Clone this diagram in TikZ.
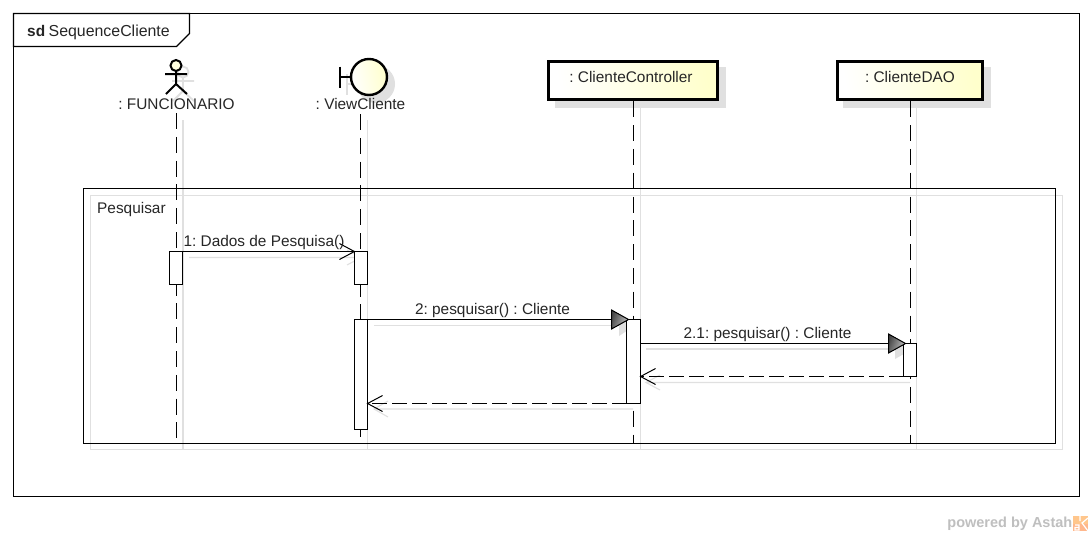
\documentclass[tikz,border=0pt]{standalone}
\usepackage{fontspec}
\setmainfont{Liberation Sans}
\frenchspacing
\usetikzlibrary{arrows.meta,calc,shadings}
\definecolor{shadowgray}{HTML}{E0E0E0}
\definecolor{noteyellow}{HTML}{FFFFCC}
\tikzset{
  x=1pt,y=-1pt,
  lbl/.style={font=\fontsize{15.4}{17}\selectfont,inner sep=0pt,text=black!85,anchor=base},
  lifeln/.style={line width=1pt,dash pattern=on 16pt off 7.8pt},
  shadowln/.style={draw=shadowgray,line width=1.2pt},
  objbox/.style={draw=black,line width=3pt,left color=white,right color=noteyellow,shading angle=100,inner sep=0pt,minimum height=38.5pt,anchor=north west},
  objshadow/.style={fill=shadowgray},
  activ/.style={draw=black,fill=white,line width=1pt,inner sep=0pt,outer sep=0pt,minimum width=13pt,anchor=north},
  msg/.style={line width=1pt},
  openhead/.style={-{Straight Barb[length=15pt,width=16pt,line width=1pt]},shorten >=-1pt},
  trihead/.style={-{Triangle[length=17pt,width=19pt,fill=gray,line width=0.8pt]},shorten >=-2.2pt},
  tritop/.style={left color=black!72,right color=black!22,shading angle=70,draw=black,line width=1pt,line join=miter},
  retmsg/.style={line width=1pt,dash pattern=on 14.5pt off 5.5pt,openhead},
  shmsg/.style={draw=shadowgray,line width=1.1pt},
}
\begin{document}
\begin{tikzpicture}
\useasboundingbox (0,0) rectangle (1092,536);
\fill[white] (0,0) rectangle (1092,536);
% frame
\draw[line width=1.2pt] (13.5,13.5) rectangle (1079.5,496.5);
\draw[line width=1.2pt,fill=white] (13.5,13.5) -- (189.5,13.5) -- (189.5,33.5) -- (176.5,46.5) -- (13.5,46.5) -- cycle;
\node[lbl,anchor=base west] (sdlabel) at (27,36) {\textbf{sd}\hspace{3.5pt}\fontsize{15.9}{17}\selectfont SequenceCliente};
% fragment shadow
\draw[shadowln] (90.5,195.5) rectangle (1062.5,449.5);
% lifeline shadows
\draw[shadowln] (183,120) -- (183,449);
\draw[shadowln] (367.5,120) -- (367.5,449);
\draw[shadowln] (640.5,107) -- (640.5,449);
\draw[shadowln] (916.5,107) -- (916.5,449);
% object shadows
\fill[objshadow] (555,67) rectangle (726,108);
\fill[objshadow] (843,67) rectangle (991,108);
% actor shadow
\begin{scope}[shadowgray,line width=1.8pt,shift={(7,7)}]
\draw (176,65) circle (5.5);
\draw (176,71) -- (176,84) (165,74) -- (187,74) (176,84) -- (166,94) (176,84) -- (187,94);
\end{scope}
% boundary shadow
\fill[shadowgray] (376,84) circle (19);
\draw[shadowgray,line width=2pt] (347,74) -- (347,95) (347,84) -- (358,84);
% actor
\draw[line width=2pt,fill=noteyellow!60] (176,65.5) circle (5.5);
\draw[line width=2pt] (176,71) -- (176,84) (165,74) -- (187,74) (176,84) -- (166,94) (176,84) -- (187,94);
\node[lbl] (funcionario) at (176.5,109.5) {: FUNCIONARIO};
% boundary
\draw[line width=2.2pt] (340,66.5) -- (340,87.5) (340,77) -- (351,77);
\shade[left color=white,right color=noteyellow,shading angle=100] (369,77) circle (18);
\draw[line width=2.4pt] (369,77) circle (18);
\node[lbl] (viewcliente) at (360.5,109.5) {: ViewCliente};
% lifeline ends
\coordinate (e1) at (176.5,442);
\coordinate (e2) at (360.5,436.5);
\coordinate (e3) at (633.5,444);
\coordinate (e4) at (910.5,444);
\coordinate (s1) at (176.5,113);
\coordinate (s2) at (360.5,114);
% lifelines
\draw[lifeln] (s1) -- (e1);
\draw[lifeln] (s2) -- (e2);
% objects
\node[objbox,minimum width=168.5pt] (controller) at (547.2,59.8) {};
\node[objbox,minimum width=145.5pt] (dao) at (835.5,59.8) {};
\node[lbl] (controllerlabel) at (631,82.3) {: ClienteController};
\node[lbl] (daolabel) at (910,82.3) {: ClienteDAO};
\draw[lifeln] (controller.south -| e3) -- (e3);
\draw[lifeln] (dao.south -| e4) -- (e4);
% fragment
\draw[line width=1.2pt] (83.5,188.5) rectangle (1055.5,443.5);
\node[lbl,anchor=base west] (pesquisar) at (97,213.5) {Pesquisar};
% message shadows
\draw[shmsg] (189,257.5) -- (361,257.5) (347,250) -- (361,257.5) -- (347,265);
\draw[shmsg] (374,325.5) -- (620,325.5);
\fill[shadowgray] (619,317) -- (634,326) -- (619,336) -- cycle;
\draw[shmsg] (646,349) -- (897,349);
\fill[shadowgray] (895,341) -- (911,350) -- (895,359) -- cycle;
\draw[shmsg] (910,382.5) -- (646,382.5) (660,375) -- (646,382.5) -- (660,390);
\draw[shmsg] (633,409) -- (374,409) (388,401) -- (374,409) -- (388,417);
% activations
\node[activ,minimum height=33pt] (a1) at (176,251.5) {};
\node[activ,minimum height=33pt] (v1) at (361,251.5) {};
\node[activ,minimum height=110pt] (v2) at (361,319.5) {};
\node[activ,minimum height=84pt,minimum width=14pt] (c1) at (633.5,319.5) {};
\node[activ,minimum height=33pt] (d1) at (910,343.5) {};
% messages
\draw[msg,openhead,yshift=1pt] (a1.north east) -- (v1.north west);
\draw[msg,trihead] (v2.north east) -- (c1.north west);
\draw[msg,trihead,yshift=1pt] (c1.east |- d1.north) -- (d1.north west);
\draw[retmsg] (d1.south west) -- (c1.east |- d1.south);
\draw[retmsg,yshift=1pt] (c1.south west) -- (v2.east |- c1.south);
\shade[tritop] ($(c1.north west)+(-15,-9.5)$) -- ($(c1.north west)+(2,0)$) -- ($(c1.north west)+(-15,9.5)$) -- cycle;
\shade[tritop] ($(d1.north west)+(-15,-9.5)$) -- ($(d1.north west)+(2,0)$) -- ($(d1.north west)+(-15,9.5)$) -- cycle;
% message labels
\node[lbl] (m1) at (264,246.3) {1: Dados de Pesquisa()};
\node[lbl] (m2) at (492.5,314.3) {2: pesquisar() : Cliente};
\node[lbl] (m21) at (767.5,338.3) {2.1: pesquisar() : Cliente};
% watermark
\node[font=\bfseries\fontsize{14.5}{16}\selectfont,text=black!25,inner sep=0pt,anchor=base east] (wm) at (1072.5,527.8) {powered by Astah};
\fill[orange!45] (1073,516) rectangle (1088,531);
\fill[red!25!orange!45] (1073,524) rectangle (1088,531);
\draw[white,line width=1.2pt] (1080,516) -- (1080,521) (1088,518) -- (1082,523) -- (1088,531) (1075,525) -- (1079,525) -- (1079,530) -- (1075,530) -- (1075,527.5) -- (1079,527.5);
\end{tikzpicture}
\end{document}
